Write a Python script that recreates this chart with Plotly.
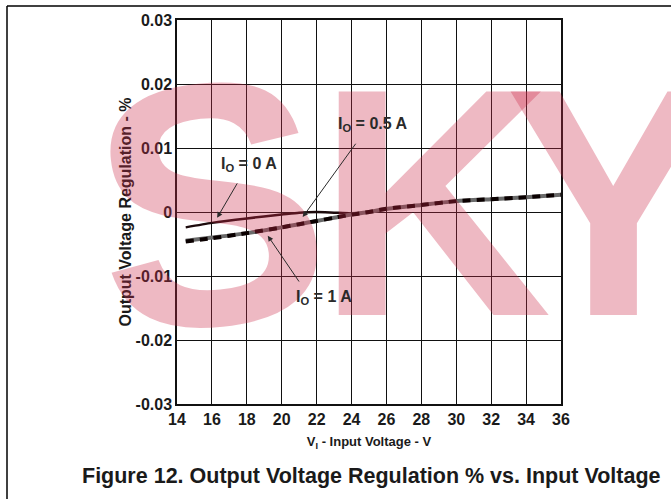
import plotly.graph_objects as go

# ---- data ----
vin = [14.5, 16, 18, 20, 21, 22, 23, 24, 25, 26, 28, 30, 32, 34, 36]
reg_0A = [-0.0024, -0.0017, -0.0010, -0.0004, -0.0001, 0.0000, -0.0001, -0.0002,
          0.0000, 0.0005, 0.0011, 0.0017, 0.0020, 0.0023, 0.0027]
reg_05A = [-0.0045, -0.0040, -0.0033, -0.0024, -0.0019, -0.0014, -0.0009, -0.0004,
           0.0000, 0.0005, 0.0011, 0.0017, 0.0020, 0.0023, 0.0027]
reg_1A = [-0.0046, -0.0041, -0.0033, -0.0024, -0.0019, -0.0014, -0.0009, -0.0004,
          0.0000, 0.0005, 0.0011, 0.0017, 0.0020, 0.0023, 0.0027]

x_ticks = [14, 16, 18, 20, 22, 24, 26, 28, 30, 32, 34, 36]
y_ticks = [-0.03, -0.02, -0.01, 0, 0.01, 0.02, 0.03]
y_ticktext = ["-0.03", "-0.02", "-0.01", "0", "0.01", "0.02", "0.03"]

FONT = "Liberation Sans, Arial, sans-serif"
TXT = "#1a1a1a"

fig = go.Figure()
fig.add_trace(go.Scatter(x=vin, y=reg_0A, mode="lines", name="IO = 0 A",
                         line=dict(color="#1c0a0c", width=2.5, shape="spline", smoothing=0.6)))
fig.add_trace(go.Scatter(x=vin, y=reg_05A, mode="lines", name="IO = 0.5 A",
                         line=dict(color="#6a6a6a", width=4, shape="spline", smoothing=0.6)))
fig.add_trace(go.Scatter(x=vin, y=reg_1A, mode="lines", name="IO = 1 A",
                         line=dict(color="#0a0000", width=4, shape="spline", smoothing=0.6,
                                   dash="8px,6px")))

def px2paper(px, py):
    return (px - 177) / 384.0, (404 - py) / 384.0

annotations = []
# watermark (semi-transparent overlay)
wm_color = "rgb(205,45,75)"
for letter, (px, py), ang, size in [("S", (210, 204), -6, 345),
                                    ("K", (434, 202), 0, 325),
                                    ("Y", (613, 202), 0, 325)]:
    ax_, ay_ = px2paper(px, py)
    annotations.append(dict(text=letter, xref="paper", yref="paper", x=ax_, y=ay_,
                            xanchor="center", yanchor="middle", showarrow=False,
                            textangle=ang, opacity=0.33,
                            font=dict(family=FONT, size=size, color=wm_color, weight="bold")))

lab_font = dict(family=FONT, size=16, color="#2a2a2a", weight="bold")
# labels
annotations.append(dict(text="I<sub>O</sub> = 0 A", x=18.1, y=0.0075, xref="x", yref="y",
                        showarrow=False, font=lab_font))
annotations.append(dict(text="I<sub>O</sub> = 0.5 A", x=25.2, y=0.0136, xref="x", yref="y",
                        showarrow=False, font=lab_font))
annotations.append(dict(text="I<sub>O</sub> = 1 A", x=22.4, y=-0.0134, xref="x", yref="y",
                        showarrow=False, font=lab_font))
# arrows (tip at x,y ; tail at ax,ay)
for tip, tail in [((16.3, -0.0009), (17.5, 0.0047)),
                  ((21.2, -0.0008), (24.3, 0.0109)),
                  ((19.2, -0.0037), (21.05, -0.0111))]:
    annotations.append(dict(text="", x=tip[0], y=tip[1], ax=tail[0], ay=tail[1],
                            xref="x", yref="y", axref="x", ayref="y",
                            showarrow=True, arrowhead=2, arrowsize=1.1, arrowwidth=1,
                            arrowcolor="#2a2a2a", standoff=0, startstandoff=0))
# caption
cx, cy = px2paper(371, 476)
annotations.append(dict(text="Figure 12. Output Voltage Regulation % vs. Input Voltage",
                        xref="paper", yref="paper", x=cx, y=cy, xanchor="center",
                        yanchor="middle", showarrow=False,
                        font=dict(family=FONT, size=21.5, color=TXT, weight="bold")))

# frame lines (top and left)
x0, y0 = px2paper(7, 6)
x1, y1 = px2paper(671, 499)
shapes = [
    dict(type="line", xref="paper", yref="paper", x0=x0, y0=y0, x1=x1, y1=y0,
         line=dict(color="black", width=1.5)),
    dict(type="line", xref="paper", yref="paper", x0=x0, y0=y0, x1=x0, y1=y1,
         line=dict(color="black", width=1.5)),
]

fig.update_layout(
    width=671, height=499,
    margin=dict(l=177, r=110, t=20, b=95),
    paper_bgcolor="white", plot_bgcolor="white",
    showlegend=False,
    annotations=annotations,
    shapes=shapes,
    font=dict(family=FONT, color=TXT),
    xaxis=dict(range=[14, 36], tickvals=x_ticks, showgrid=True, gridcolor="#111",
               gridwidth=1, showline=True, linecolor="#111", linewidth=1.5, mirror=True,
               ticks="", zeroline=False,
               tickfont=dict(family=FONT, size=16, color=TXT, weight="bold"),
               title=dict(text="V<sub>I</sub> - Input Voltage - V", standoff=10,
                          font=dict(family=FONT, size=13, color=TXT, weight="bold"))),
    yaxis=dict(range=[-0.03, 0.03], tickvals=y_ticks, ticktext=y_ticktext, showgrid=True,
               gridcolor="#111", gridwidth=1, showline=True, linecolor="#111", linewidth=1.5,
               mirror=True, ticks="", zeroline=False,
               tickfont=dict(family=FONT, size=16, color=TXT, weight="bold"),
               title=dict(text="Output Voltage Regulation - %", standoff=0,
                          font=dict(family=FONT, size=16, color=TXT, weight="bold"))),
)

fig.write_html("out.html", config={"displayModeBar": False},
               post_script="document.body.style.margin='0';document.body.style.overflow='hidden';")
